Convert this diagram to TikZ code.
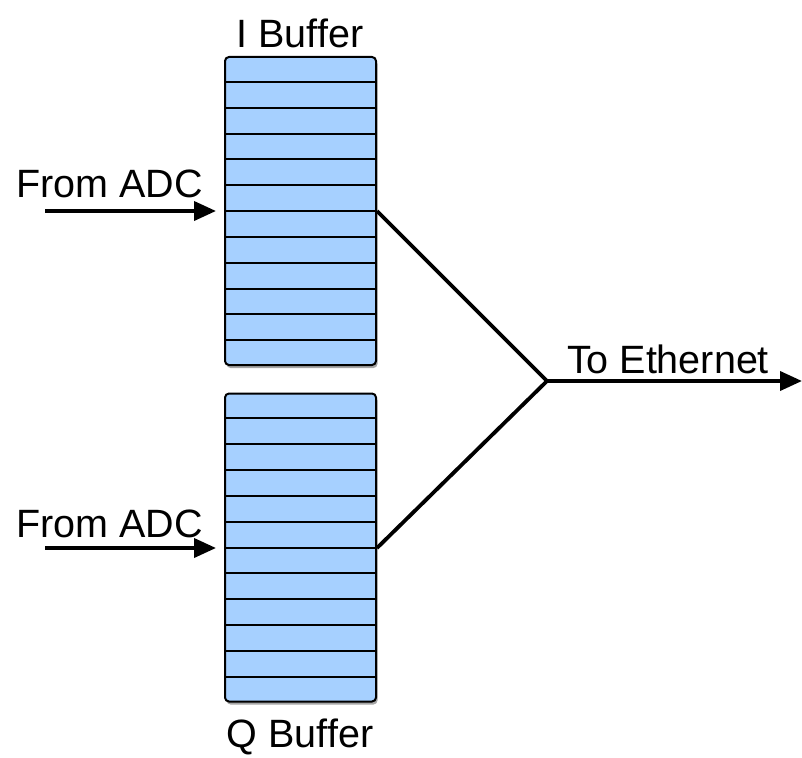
\documentclass[tikz,border=0pt]{standalone}
\usepackage{fontspec}
\setmainfont{Liberation Sans}
\usetikzlibrary{arrows.meta,shadows,calc}
\definecolor{cellblue}{RGB}{166,208,255}
\tikzset{
  x=1pt, y=-1pt,
  buffer/.style={draw=black, line width=2pt, fill=cellblue, rounded corners=4pt,
    minimum width=151pt, minimum height=308pt, inner sep=0pt,
    drop shadow={shadow xshift=1.5pt, shadow yshift=-3pt, opacity=0.35, fill=black}},
  rowline/.style={line width=2pt},
  label/.style={font=\fontsize{39.5}{41}\selectfont, inner sep=0pt},
  flow/.style={line width=3.8pt, -{Triangle[length=22pt,width=19pt]}},
  mergeline/.style={line width=3.8pt, line join=miter}
}
\begin{document}
\begin{tikzpicture}
\useasboundingbox (0,0) rectangle (802,757);

% the two sample buffers
\node[buffer] (ibuf) at (300.5,211) {};
\node[buffer] (qbuf) at (300.5,547.5) {};

% row separators: 12 cells each
\foreach \b in {ibuf,qbuf}{
  \foreach \k in {1,...,11}{
    \draw[rowline] ($(\b.north west)!\k/12!(\b.south west)$) -- ($(\b.north east)!\k/12!(\b.south east)$);
  }
}

% titles
\node[label] (ititle) at (300,33) {I Buffer};
\node[label] (qtitle) at (300,737) {Q Buffer};

% inputs from the converters
\node[label, anchor=west] (iadc) at (16,184) {From ADC};
\node[label, anchor=west] (qadc) at (16,524) {From ADC};
\coordinate (iin) at (45,211);
\coordinate (qin) at (45,548);
\draw[flow, shorten >=8pt] (iin) -- (iin -| ibuf.west);
\draw[flow, shorten >=8pt] (qin) -- (qin -| qbuf.west);

% merge towards the network output
\coordinate (iout) at (ibuf.east |- iin);
\coordinate (qout) at (qbuf.east |- qin);
\coordinate (merge) at (547,381);
\coordinate (eth) at (802,381);
\draw[mergeline] (iout) -- (merge) -- (qout);
\draw[flow] (merge) -- (eth);
\node[label] (ethlabel) at (668,359) {To Ethernet};
\end{tikzpicture}
\end{document}
